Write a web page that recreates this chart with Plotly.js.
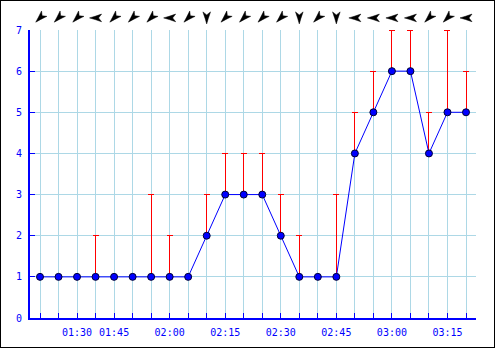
<!DOCTYPE html>
<html>
<head>
<meta charset="utf-8">
<script src="https://cdn.plot.ly/plotly-3.0.1.min.js"></script>
<style>
html,body{margin:0;padding:0;background:#fff;}
#chart{width:495px;height:348px;box-sizing:border-box;border:1px solid #000;}
#chart .errorbar path{shape-rendering:crispEdges;}
</style>
</head>
<body>
<div id="chart"></div>
<script>
// Data
var times = ["01:20","01:25","01:30","01:40","01:45","01:50","01:55","02:00","02:05","02:10",
             "02:15","02:20","02:25","02:30","02:35","02:40","02:45","02:50","02:55","03:00",
             "03:05","03:10","03:15","03:20"];
var windSpeed = [1,1,1,1,1,1,1,1,1,2,3,3,3,2,1,1,1,4,5,6,6,4,5,5];
var windGust  = [1,1,1,2,1,1,3,2,1,3,4,4,4,3,2,1,3,5,6,7,7,5,7,6];
// wind direction (degrees, direction wind comes from)
var windDir   = [45,45,45,90,45,45,45,90,45,0,45,45,45,45,0,45,0,90,90,90,90,45,45,90];
var tickLabels = times.map(function(t){
  var m = parseInt(t.split(":")[1],10);
  return (m % 15 === 0) ? t : "";
});

var gustExtra = windGust.map(function(g,i){ return g - windSpeed[i]; });
var gustMinus = windSpeed.map(function(){ return 0; });

var blue = "#0000ff";
var mono = "DejaVu Sans Mono, monospace";

// dart glyph (pointing up), pixel offsets: tip, shoulders, fins, notch
var dart = [[0,6],[1.6,0.5],[3.8,-6],[0,-3],[-3.8,-6],[-1.6,0.5]];
function dartPath(bearing){
  var r = bearing * Math.PI / 180, c = Math.cos(r), s = Math.sin(r);
  return dart.map(function(p, k){
    var x = p[0]*c + p[1]*s, y = -p[0]*s + p[1]*c;
    return (k === 0 ? "M" : "L") + x.toFixed(2) + "," + y.toFixed(2);
  }).join("") + "Z";
}
var arrowShapes = times.map(function(t, i){
  return {
    type: "path", xref: "x", yref: "paper",
    xsizemode: "pixel", ysizemode: "pixel",
    xanchor: i, yanchor: 1.042,
    path: dartPath(windDir[i] + 180),
    fillcolor: "#000000", line: {color: "#000000", width: 0.5}, layer: "above"
  };
});

var traces = [
  {
    x: times, y: windSpeed, type: "scatter", mode: "lines+markers",
    line: {color: blue, width: 1},
    marker: {color: blue, size: 7, line: {color: "#000033", width: 1}},
    error_y: {type: "data", symmetric: false, array: gustExtra, arrayminus: gustMinus,
              color: "#ff0000", thickness: 1, width: 3},
    hoverinfo: "x+y"
  }
];

var layout = {
  width: 493, height: 346,
  margin: {l: 29, r: 18, t: 29, b: 29},
  paper_bgcolor: "#ffffff", plot_bgcolor: "#ffffff",
  showlegend: false,
  shapes: arrowShapes,
  xaxis: {
    type: "category",
    range: [-0.54, 23.54],
    tickmode: "array", tickvals: times, ticktext: tickLabels,
    ticks: "inside", ticklen: 5, tickcolor: blue, tickwidth: 1,
    showgrid: true, gridcolor: "#add8e6", gridwidth: 1,
    showline: true, linecolor: blue, linewidth: 2,
    zeroline: false,
    tickangle: 0,
    ticklabelstandoff: 4,
    tickfont: {family: mono, size: 10, color: blue}
  },
  yaxis: {
    range: [0, 7],
    tickmode: "linear", tick0: 0, dtick: 1,
    ticks: "inside", ticklen: 5, tickcolor: blue, tickwidth: 1,
    showgrid: true, gridcolor: "#add8e6", gridwidth: 1,
    showline: true, linecolor: blue, linewidth: 2,
    zeroline: false,
    ticklabelstandoff: 4,
    tickfont: {family: mono, size: 10, color: blue}
  }
};

Plotly.newPlot("chart", traces, layout, {displayModeBar: false, staticPlot: true});
</script>
</body>
</html>
